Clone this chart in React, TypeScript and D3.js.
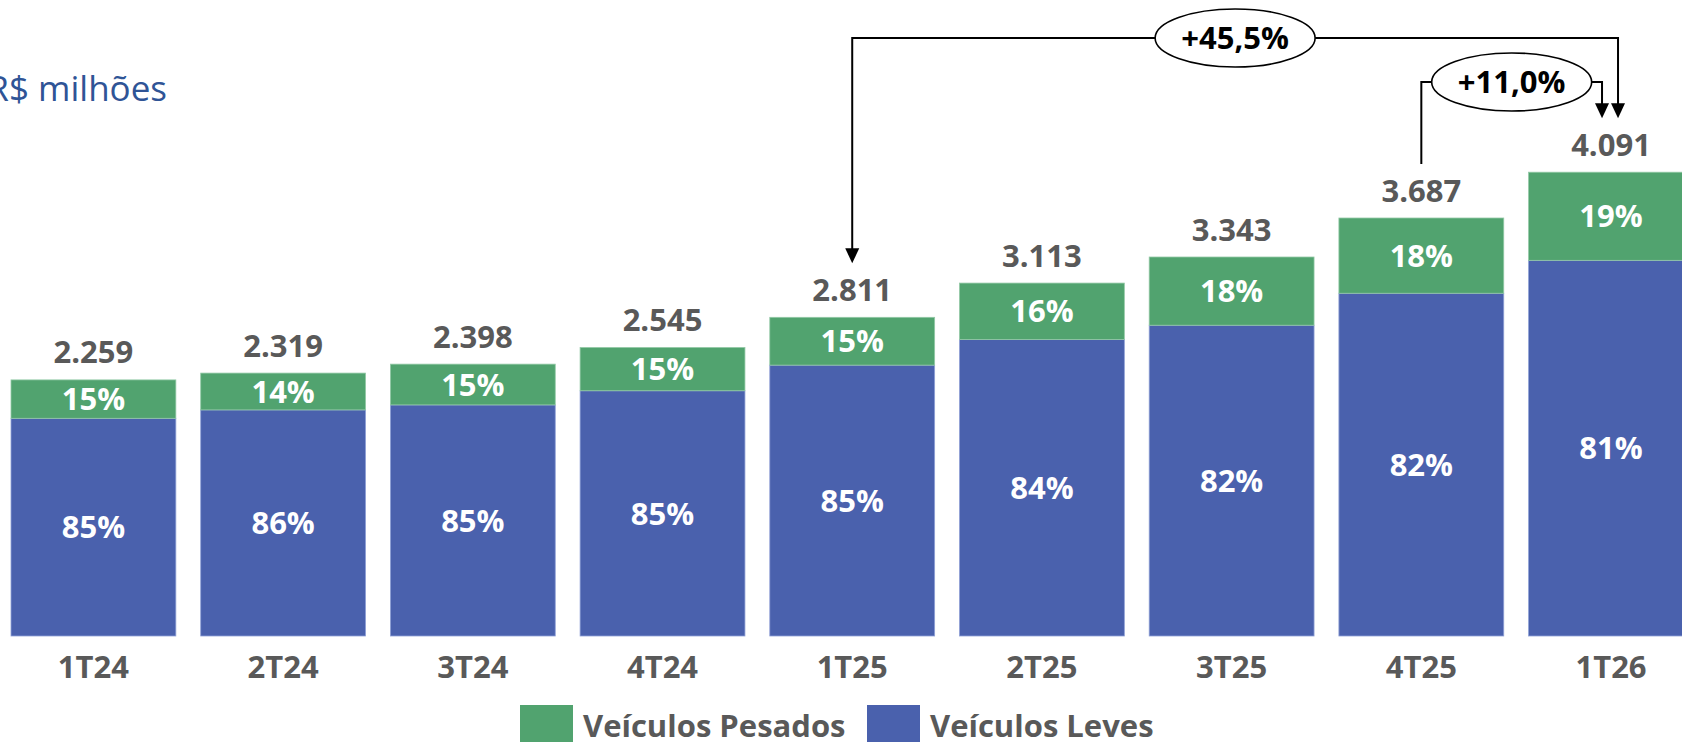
import { useEffect, useRef } from "react";
import * as d3 from "d3";

// quarters and totals (R$ milhões)
const quarters = ["1T24", "2T24", "3T24", "4T24", "1T25", "2T25", "3T25", "4T25", "1T26"];
const totals = [2259, 2319, 2398, 2545, 2811, 3113, 3343, 3687, 4091];

// share of each segment, in %
const pesadosPct = [15, 14, 15, 15, 15, 16, 18, 18, 19];
const levesPct = [85, 86, 85, 85, 85, 84, 82, 82, 81];

const seriesNames = ["Veículos Pesados", "Veículos Leves"];

// growth brackets
const growthFrom = ["1T25", "4T25"];
const growthTo = "1T26";
const growthLabels = ["+45,5%", "+11,0%"];

const W = 1682;
const H = 742;
const GREEN = "#51A36F";
const BLUE = "#4A61AD";
const GREY = "#595959";
const FONT = "'Open Sans', sans-serif";

export default function App() {
    const svgRef = useRef<SVGSVGElement | null>(null);

    useEffect(() => {
        const svg = d3.select(svgRef.current);
        svg.selectAll("*").remove();

        const br = d3.formatLocale({ decimal: ",", thousands: ".", grouping: [3], currency: ["R$", ""] });
        const fmt = br.format(",");

        // band scale: first bar starts at x=11, step ~189.7
        const step = 189.7;
        const pad = 0.131;
        const x = d3.scaleBand<string>()
            .domain(quarters)
            .range([11 - (step * pad) / 2, 11 - (step * pad) / 2 + step * quarters.length])
            .paddingInner(pad)
            .paddingOuter(pad / 2);

        const y = d3.scaleLinear().domain([0, 4500]).range([636, 636 - 4500 * 0.11337]);

        const cx = (q: string) => (x(q) as number) + x.bandwidth() / 2;

        // unit label
        svg.append("text")
            .attr("x", 167)
            .attr("y", 101)
            .attr("text-anchor", "end")
            .attr("font-family", FONT)
            .attr("font-size", 35)
            .attr("fill", "#2F5496")
            .text("R$ milhões");

        const rows = quarters.map((q, i) => {
            const leves = (totals[i] * levesPct[i]) / 100;
            const pesados = (totals[i] * pesadosPct[i]) / 100;
            return { q, total: totals[i], leves, pesados, lp: levesPct[i], pp: pesadosPct[i] };
        });

        const bars = svg.append("g");

        // blue (leves) segment
        bars.selectAll("rect.leves")
            .data(rows)
            .join("rect")
            .attr("class", "leves")
            .attr("x", d => x(d.q) as number)
            .attr("width", x.bandwidth())
            .attr("y", d => y(d.leves))
            .attr("height", d => y(0) - y(d.leves))
            .attr("fill", BLUE)
            .attr("stroke", "#8fa0d6")
            .attr("stroke-width", 0.8);

        // green (pesados) segment on top
        bars.selectAll("rect.pesados")
            .data(rows)
            .join("rect")
            .attr("class", "pesados")
            .attr("x", d => x(d.q) as number)
            .attr("width", x.bandwidth())
            .attr("y", d => y(d.leves + d.pesados))
            .attr("height", d => y(d.leves) - y(d.leves + d.pesados))
            .attr("fill", GREEN)
            .attr("stroke", "#93c9a6")
            .attr("stroke-width", 0.8);

        // percentage labels
        const pctLabel = (sel: any) => sel
            .attr("text-anchor", "middle")
            .attr("dy", "0.36em")
            .attr("font-family", FONT)
            .attr("font-weight", 700)
            .attr("font-size", 31)
            .attr("fill", "#fff");

        bars.selectAll("text.lp")
            .data(rows)
            .join("text")
            .attr("class", "lp")
            .attr("x", d => cx(d.q))
            .attr("y", d => (y(0) + y(d.leves)) / 2)
            .call(pctLabel)
            .text(d => d.lp + "%");

        bars.selectAll("text.pp")
            .data(rows)
            .join("text")
            .attr("class", "pp")
            .attr("x", d => cx(d.q))
            .attr("y", d => (y(d.leves) + y(d.total)) / 2)
            .call(pctLabel)
            .text(d => d.pp + "%");

        // totals above the bars
        bars.selectAll("text.tot")
            .data(rows)
            .join("text")
            .attr("class", "tot")
            .attr("x", d => cx(d.q))
            .attr("y", d => y(d.total) - 16.5)
            .attr("text-anchor", "middle")
            .attr("font-family", FONT)
            .attr("font-weight", 700)
            .attr("font-size", 31)
            .attr("fill", GREY)
            .text(d => fmt(d.total));

        // category axis labels
        svg.append("g")
            .selectAll("text")
            .data(quarters)
            .join("text")
            .attr("x", d => cx(d))
            .attr("y", 678)
            .attr("text-anchor", "middle")
            .attr("font-family", FONT)
            .attr("font-weight", 700)
            .attr("font-size", 31)
            .attr("fill", GREY)
            .text(d => d);

        // growth brackets
        const ann = svg.append("g");
        const tipOf = (q: string) => y(totals[quarters.indexOf(q)]) - 54;
        const arrowHead = (xx: number, yy: number) => {
            ann.append("path")
                .attr("d", `M${xx - 7},${yy - 15}L${xx + 7},${yy - 15}L${xx},${yy}Z`)
                .attr("fill", "#000");
        };
        const line = (pts: [number, number][]) => {
            ann.append("path")
                .attr("d", d3.line()(pts))
                .attr("fill", "none")
                .attr("stroke", "#000")
                .attr("stroke-width", 2);
        };
        const levels = [38, 82];
        const toOffsets = [7, -9];

        growthFrom.forEach((from, i) => {
            const lvl = levels[i];
            const x1 = cx(from);
            const x2 = cx(growthTo) + toOffsets[i];
            const mid = (x1 + x2) / 2;
            const rx = 80;
            const fromY = tipOf(from);
            const toY = tipOf(growthTo);

            if (i === 0) {
                // arrow into the starting bar
                line([[mid - rx, lvl], [x1, lvl], [x1, fromY - 14]]);
                arrowHead(x1, fromY);
            } else {
                line([[mid - rx, lvl], [x1, lvl], [x1, fromY]]);
            }
            line([[mid + rx, lvl], [x2, lvl], [x2, toY - 14]]);
            arrowHead(x2, toY);

            ann.append("ellipse")
                .attr("cx", mid)
                .attr("cy", lvl)
                .attr("rx", rx)
                .attr("ry", 29)
                .attr("fill", "#fff")
                .attr("stroke", "#000")
                .attr("stroke-width", 1.6);

            ann.append("text")
                .attr("x", mid)
                .attr("y", lvl)
                .attr("dy", "0.36em")
                .attr("text-anchor", "middle")
                .attr("font-family", FONT)
                .attr("font-weight", 700)
                .attr("font-size", 31)
                .attr("fill", "#000")
                .text(growthLabels[i]);
        });

        // legend
        const legend = svg.append("g");
        const legendX = [520, 867];
        [GREEN, BLUE].forEach((c, i) => {
            legend.append("rect")
                .attr("x", legendX[i])
                .attr("y", 705)
                .attr("width", 53)
                .attr("height", 40)
                .attr("fill", c);
            legend.append("text")
                .attr("x", legendX[i] + 63)
                .attr("y", 737)
                .attr("font-family", FONT)
                .attr("font-weight", 700)
                .attr("font-size", 31)
                .attr("fill", GREY)
                .text(seriesNames[i]);
        });
    }, []);

    return (
        <svg
            ref={svgRef}
            width={W}
            height={H}
            style={{ position: "absolute", left: 0, top: 0, display: "block", background: "#fff" }}
        />
    );
}
